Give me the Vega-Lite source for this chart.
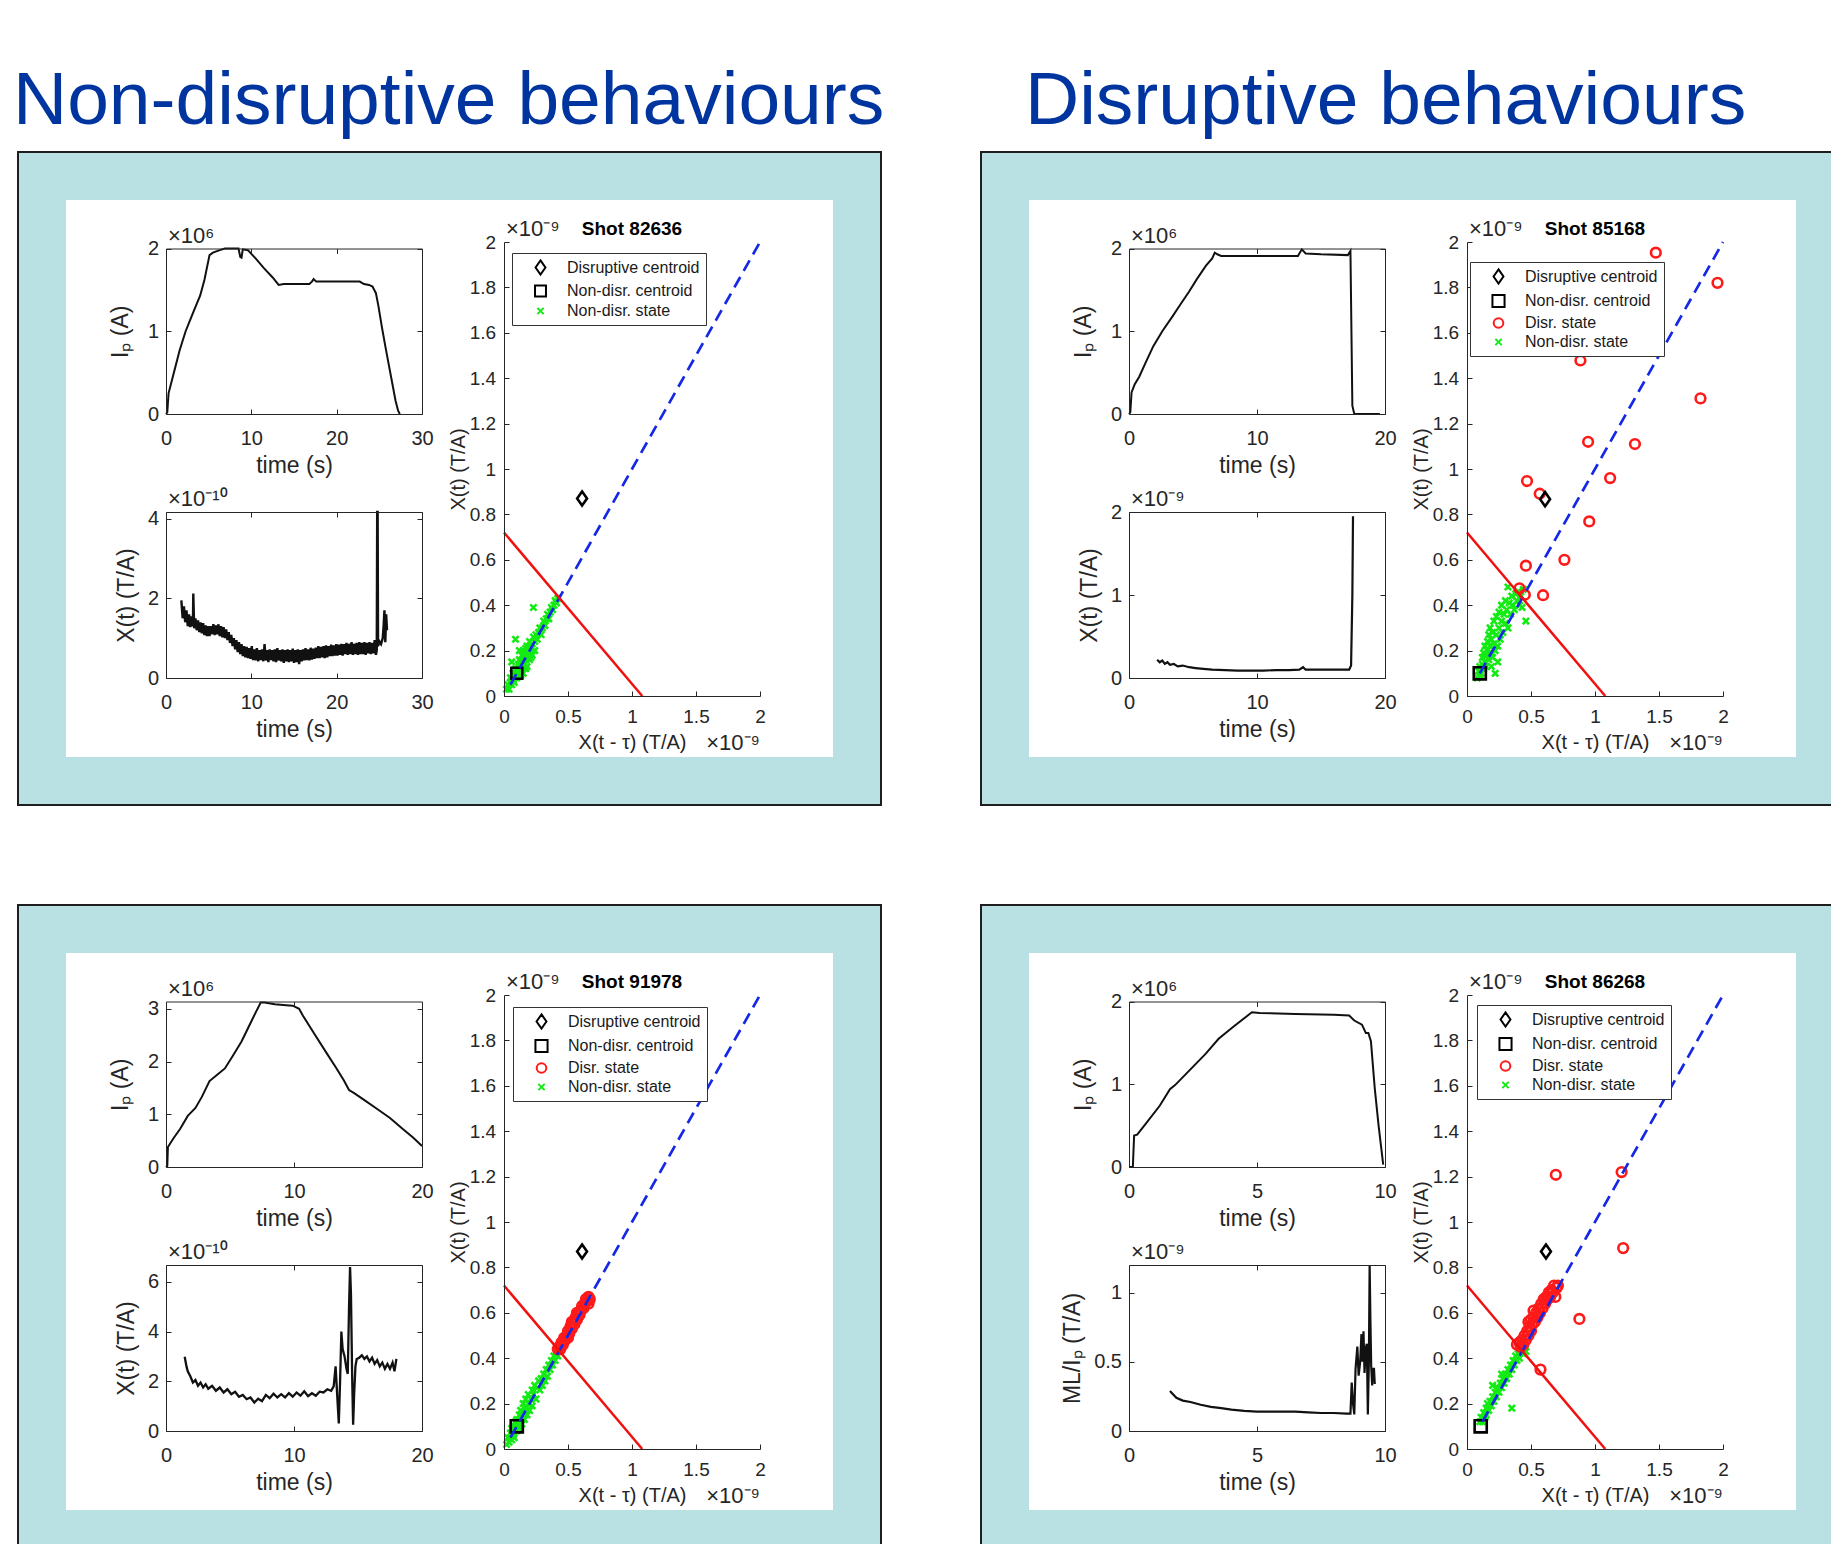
{
"$schema":"https://vega.github.io/schema/vega-lite/v6.json",
"background":"white",
"padding":{"left":13,"top":64,"right":0,"bottom":0},
"columns":2,
"spacing":196,
"bounds":"flush",
"resolve":{"scale":{"x":"independent","y":"independent","color":"independent","shape":"independent","size":"independent"},"axis":{"x":"independent","y":"independent"},"legend":{"color":"independent","shape":"independent","size":"independent"}},
"config":{
 "font":"Liberation Sans, Arial, Helvetica, sans-serif",
 "view":{"stroke":null},
 "axis":{"grid":false,"labelFont":"Liberation Sans, Arial, Helvetica, sans-serif","titleFont":"Liberation Sans, Arial, Helvetica, sans-serif","labelColor":"#262626","titleColor":"#262626","domainColor":"#262626","tickColor":"#262626","titleFontWeight":"normal","labelFlush":false,"labelOverlap":false,"tickSize":-5,"labelFontSize":20,"titleFontSize":23,"domainWidth":1,"tickWidth":1},
 "legend":{"labelFontSize":16,"labelFont":"Liberation Sans, Arial, Helvetica, sans-serif","labelColor":"#1a1a1a","padding":6,"rowPadding":2,"symbolOffset":14,"labelOffset":18,"strokeColor":"#333333","fillColor":"white","symbolStrokeWidth":2,"labelLimit":300},
 "text":{"font":"Liberation Sans, Arial, Helvetica, sans-serif"},
 "title":{"font":"Liberation Sans, Arial, Helvetica, sans-serif"}
},
"datasets":{
 "info":[
  {"p":"A","shot":"Shot 82636","ipx":"×10⁶","xx":"×10⁻¹⁰","sx":"×10⁻⁹"},
  {"p":"B","shot":"Shot 85168","ipx":"×10⁶","xx":"×10⁻⁹","sx":"×10⁻⁹"},
  {"p":"C","shot":"Shot 91978","ipx":"×10⁶","xx":"×10⁻¹⁰","sx":"×10⁻⁹"},
  {"p":"D","shot":"Shot 86268","ipx":"×10⁶","xx":"×10⁻⁹","sx":"×10⁻⁹"}
 ],
 "ip":[
  {"p":"A","t":0,"v":0},{"p":"A","t":0.15,"v":0.02},{"p":"A","t":0.3,"v":0.25},{"p":"A","t":0.8,"v":0.45},{"p":"A","t":1.6,"v":0.77},{"p":"A","t":2.3,"v":1.0},{"p":"A","t":3.0,"v":1.18},{"p":"A","t":3.6,"v":1.33},{"p":"A","t":4.0,"v":1.43},{"p":"A","t":4.5,"v":1.62},{"p":"A","t":5.1,"v":1.92},{"p":"A","t":5.5,"v":1.95},{"p":"A","t":6.3,"v":1.98},{"p":"A","t":6.9,"v":2.0},{"p":"A","t":7.8,"v":2.0},{"p":"A","t":8.5,"v":2.0},{"p":"A","t":8.7,"v":1.9},{"p":"A","t":8.85,"v":1.89},{"p":"A","t":9.0,"v":1.99},{"p":"A","t":9.6,"v":1.98},{"p":"A","t":10.5,"v":1.88},{"p":"A","t":11.5,"v":1.76},{"p":"A","t":12.5,"v":1.65},{"p":"A","t":13.2,"v":1.56},{"p":"A","t":13.8,"v":1.57},{"p":"A","t":14.5,"v":1.57},{"p":"A","t":15.5,"v":1.57},{"p":"A","t":16.8,"v":1.57},{"p":"A","t":17.1,"v":1.6},{"p":"A","t":17.3,"v":1.63},{"p":"A","t":17.6,"v":1.6},{"p":"A","t":18.5,"v":1.6},{"p":"A","t":20.0,"v":1.6},{"p":"A","t":21.5,"v":1.6},{"p":"A","t":22.7,"v":1.6},{"p":"A","t":23.2,"v":1.57},{"p":"A","t":23.8,"v":1.56},{"p":"A","t":24.2,"v":1.54},{"p":"A","t":24.6,"v":1.46},{"p":"A","t":24.9,"v":1.3},{"p":"A","t":25.3,"v":1.05},{"p":"A","t":25.7,"v":0.82},{"p":"A","t":26.1,"v":0.6},{"p":"A","t":26.5,"v":0.38},{"p":"A","t":26.9,"v":0.16},{"p":"A","t":27.2,"v":0.04},{"p":"A","t":27.4,"v":0},
  {"p":"B","t":0,"v":0},{"p":"B","t":0.1,"v":0.02},{"p":"B","t":0.2,"v":0.26},{"p":"B","t":0.45,"v":0.36},{"p":"B","t":0.8,"v":0.45},{"p":"B","t":1.3,"v":0.62},{"p":"B","t":1.9,"v":0.82},{"p":"B","t":2.6,"v":1.0},{"p":"B","t":3.4,"v":1.18},{"p":"B","t":4.0,"v":1.32},{"p":"B","t":4.7,"v":1.48},{"p":"B","t":5.3,"v":1.63},{"p":"B","t":6.0,"v":1.79},{"p":"B","t":6.5,"v":1.88},{"p":"B","t":6.7,"v":1.95},{"p":"B","t":6.9,"v":1.93},{"p":"B","t":7.2,"v":1.91},{"p":"B","t":9.0,"v":1.91},{"p":"B","t":11.0,"v":1.91},{"p":"B","t":13.2,"v":1.91},{"p":"B","t":13.5,"v":1.99},{"p":"B","t":13.8,"v":1.94},{"p":"B","t":15.0,"v":1.93},{"p":"B","t":17.1,"v":1.92},{"p":"B","t":17.3,"v":1.97},{"p":"B","t":17.45,"v":0.1},{"p":"B","t":17.6,"v":0},{"p":"B","t":19.6,"v":0},
  {"p":"C","t":0,"v":0},{"p":"C","t":0.1,"v":0.02},{"p":"C","t":0.15,"v":0.38},{"p":"C","t":0.6,"v":0.55},{"p":"C","t":1.1,"v":0.72},{"p":"C","t":1.7,"v":0.97},{"p":"C","t":2.3,"v":1.12},{"p":"C","t":2.8,"v":1.33},{"p":"C","t":3.4,"v":1.63},{"p":"C","t":4.0,"v":1.75},{"p":"C","t":4.6,"v":1.87},{"p":"C","t":5.2,"v":2.1},{"p":"C","t":5.9,"v":2.38},{"p":"C","t":6.5,"v":2.68},{"p":"C","t":7.0,"v":2.93},{"p":"C","t":7.4,"v":3.12},{"p":"C","t":7.7,"v":3.12},{"p":"C","t":8.5,"v":3.09},{"p":"C","t":9.4,"v":3.07},{"p":"C","t":9.9,"v":3.06},{"p":"C","t":10.4,"v":3.0},{"p":"C","t":10.7,"v":2.87},{"p":"C","t":11.5,"v":2.56},{"p":"C","t":12.5,"v":2.18},{"p":"C","t":13.3,"v":1.88},{"p":"C","t":13.9,"v":1.64},{"p":"C","t":14.3,"v":1.46},{"p":"C","t":14.7,"v":1.4},{"p":"C","t":15.5,"v":1.27},{"p":"C","t":16.5,"v":1.1},{"p":"C","t":17.5,"v":0.93},{"p":"C","t":18.5,"v":0.72},{"p":"C","t":19.3,"v":0.56},{"p":"C","t":20.0,"v":0.4},
  {"p":"D","t":0,"v":0},{"p":"D","t":0.15,"v":0},{"p":"D","t":0.2,"v":0.38},{"p":"D","t":0.32,"v":0.39},{"p":"D","t":0.65,"v":0.52},{"p":"D","t":1.2,"v":0.74},{"p":"D","t":1.6,"v":0.94},{"p":"D","t":1.8,"v":0.99},{"p":"D","t":2.4,"v":1.18},{"p":"D","t":3.0,"v":1.37},{"p":"D","t":3.5,"v":1.55},{"p":"D","t":4.1,"v":1.7},{"p":"D","t":4.8,"v":1.87},{"p":"D","t":5.1,"v":1.86},{"p":"D","t":6.5,"v":1.85},{"p":"D","t":8.0,"v":1.84},{"p":"D","t":8.6,"v":1.83},{"p":"D","t":8.8,"v":1.77},{"p":"D","t":9.1,"v":1.72},{"p":"D","t":9.25,"v":1.62},{"p":"D","t":9.35,"v":1.62},{"p":"D","t":9.45,"v":1.52},{"p":"D","t":9.6,"v":0.95},{"p":"D","t":9.75,"v":0.5},{"p":"D","t":9.93,"v":0.03}
 ],
 "xt":[
  {"p":"A","t":1.8,"v":1.95},{"p":"A","t":1.95,"v":1.5},{"p":"A","t":2.1,"v":1.8},{"p":"A","t":2.25,"v":1.4},{"p":"A","t":2.4,"v":1.7},{"p":"A","t":2.55,"v":1.3},{"p":"A","t":2.7,"v":1.6},{"p":"A","t":2.85,"v":1.28},{"p":"A","t":3.0,"v":1.55},{"p":"A","t":3.15,"v":1.3},{"p":"A","t":3.2,"v":2.12},{"p":"A","t":3.3,"v":1.25},{"p":"A","t":3.45,"v":1.5},{"p":"A","t":3.6,"v":1.2},{"p":"A","t":3.75,"v":1.45},{"p":"A","t":3.9,"v":1.15},{"p":"A","t":4.05,"v":1.4},{"p":"A","t":4.2,"v":1.12},{"p":"A","t":4.35,"v":1.38},{"p":"A","t":4.5,"v":1.08},{"p":"A","t":4.65,"v":1.32},{"p":"A","t":4.8,"v":1.05},{"p":"A","t":4.95,"v":1.3},{"p":"A","t":5.1,"v":1.05},{"p":"A","t":5.25,"v":1.3},{"p":"A","t":5.4,"v":1.1},{"p":"A","t":5.55,"v":1.35},{"p":"A","t":5.7,"v":1.08},{"p":"A","t":5.85,"v":1.32},{"p":"A","t":6.0,"v":1.1},{"p":"A","t":6.15,"v":1.35},{"p":"A","t":6.3,"v":1.05},{"p":"A","t":6.45,"v":1.3},{"p":"A","t":6.6,"v":1.02},{"p":"A","t":6.75,"v":1.28},{"p":"A","t":6.9,"v":1.0},{"p":"A","t":7.05,"v":1.22},{"p":"A","t":7.2,"v":0.95},{"p":"A","t":7.35,"v":1.15},{"p":"A","t":7.5,"v":0.88},{"p":"A","t":7.65,"v":1.08},{"p":"A","t":7.8,"v":0.8},{"p":"A","t":7.95,"v":1.0},{"p":"A","t":8.1,"v":0.72},{"p":"A","t":8.25,"v":0.95},{"p":"A","t":8.4,"v":0.65},{"p":"A","t":8.55,"v":0.9},{"p":"A","t":8.7,"v":0.6},{"p":"A","t":8.85,"v":0.85},{"p":"A","t":9.0,"v":0.55},{"p":"A","t":9.15,"v":0.8},{"p":"A","t":9.3,"v":0.52},{"p":"A","t":9.45,"v":0.78},{"p":"A","t":9.6,"v":0.5},{"p":"A","t":9.75,"v":0.75},{"p":"A","t":9.9,"v":0.48},{"p":"A","t":10.05,"v":0.8},{"p":"A","t":10.2,"v":0.45},{"p":"A","t":10.35,"v":0.72},{"p":"A","t":10.5,"v":0.44},{"p":"A","t":10.65,"v":0.75},{"p":"A","t":10.8,"v":0.42},{"p":"A","t":10.95,"v":0.7},{"p":"A","t":11.1,"v":0.45},{"p":"A","t":11.25,"v":0.72},{"p":"A","t":11.4,"v":0.42},{"p":"A","t":11.55,"v":0.85},{"p":"A","t":11.7,"v":0.44},{"p":"A","t":11.85,"v":0.7},{"p":"A","t":12.0,"v":0.4},{"p":"A","t":12.15,"v":0.72},{"p":"A","t":12.3,"v":0.45},{"p":"A","t":12.45,"v":0.7},{"p":"A","t":12.6,"v":0.42},{"p":"A","t":12.75,"v":0.72},{"p":"A","t":12.9,"v":0.4},{"p":"A","t":13.05,"v":0.75},{"p":"A","t":13.2,"v":0.44},{"p":"A","t":13.35,"v":0.7},{"p":"A","t":13.5,"v":0.42},{"p":"A","t":13.65,"v":0.72},{"p":"A","t":13.8,"v":0.38},{"p":"A","t":13.95,"v":0.7},{"p":"A","t":14.1,"v":0.42},{"p":"A","t":14.25,"v":0.72},{"p":"A","t":14.4,"v":0.4},{"p":"A","t":14.55,"v":0.7},{"p":"A","t":14.7,"v":0.42},{"p":"A","t":14.85,"v":0.74},{"p":"A","t":15.0,"v":0.38},{"p":"A","t":15.15,"v":0.7},{"p":"A","t":15.3,"v":0.4},{"p":"A","t":15.45,"v":0.72},{"p":"A","t":15.6,"v":0.35},{"p":"A","t":15.75,"v":0.7},{"p":"A","t":15.9,"v":0.42},{"p":"A","t":16.05,"v":0.72},{"p":"A","t":16.2,"v":0.44},{"p":"A","t":16.35,"v":0.75},{"p":"A","t":16.5,"v":0.45},{"p":"A","t":16.65,"v":0.72},{"p":"A","t":16.8,"v":0.44},{"p":"A","t":16.95,"v":0.76},{"p":"A","t":17.1,"v":0.46},{"p":"A","t":17.25,"v":0.74},{"p":"A","t":17.4,"v":0.48},{"p":"A","t":17.55,"v":0.76},{"p":"A","t":17.7,"v":0.5},{"p":"A","t":17.85,"v":0.8},{"p":"A","t":18.0,"v":0.5},{"p":"A","t":18.15,"v":0.78},{"p":"A","t":18.3,"v":0.52},{"p":"A","t":18.45,"v":0.8},{"p":"A","t":18.6,"v":0.5},{"p":"A","t":18.75,"v":0.82},{"p":"A","t":18.9,"v":0.52},{"p":"A","t":19.05,"v":0.8},{"p":"A","t":19.2,"v":0.55},{"p":"A","t":19.35,"v":0.84},{"p":"A","t":19.5,"v":0.55},{"p":"A","t":19.65,"v":0.82},{"p":"A","t":19.8,"v":0.56},{"p":"A","t":19.95,"v":0.85},{"p":"A","t":20.1,"v":0.56},{"p":"A","t":20.25,"v":0.84},{"p":"A","t":20.4,"v":0.58},{"p":"A","t":20.55,"v":0.86},{"p":"A","t":20.7,"v":0.56},{"p":"A","t":20.85,"v":0.85},{"p":"A","t":21.0,"v":0.6},{"p":"A","t":21.15,"v":0.88},{"p":"A","t":21.3,"v":0.58},{"p":"A","t":21.45,"v":0.86},{"p":"A","t":21.6,"v":0.6},{"p":"A","t":21.75,"v":0.9},{"p":"A","t":21.9,"v":0.58},{"p":"A","t":22.05,"v":0.86},{"p":"A","t":22.2,"v":0.6},{"p":"A","t":22.35,"v":0.88},{"p":"A","t":22.5,"v":0.58},{"p":"A","t":22.65,"v":0.9},{"p":"A","t":22.8,"v":0.6},{"p":"A","t":22.95,"v":0.88},{"p":"A","t":23.1,"v":0.6},{"p":"A","t":23.25,"v":0.9},{"p":"A","t":23.4,"v":0.58},{"p":"A","t":23.55,"v":0.88},{"p":"A","t":23.7,"v":0.62},{"p":"A","t":23.85,"v":0.9},{"p":"A","t":24.0,"v":0.6},{"p":"A","t":24.15,"v":0.88},{"p":"A","t":24.3,"v":0.62},{"p":"A","t":24.45,"v":0.95},{"p":"A","t":24.6,"v":0.58},{"p":"A","t":24.7,"v":0.7},{"p":"A","t":24.75,"v":4.17},{"p":"A","t":24.8,"v":4.17},{"p":"A","t":24.85,"v":0.8},{"p":"A","t":25.0,"v":0.92},{"p":"A","t":25.2,"v":0.85},{"p":"A","t":25.4,"v":1.0},{"p":"A","t":25.5,"v":1.3},{"p":"A","t":25.6,"v":1.7},{"p":"A","t":25.7,"v":0.9},{"p":"A","t":25.8,"v":1.6},{"p":"A","t":25.9,"v":1.2},
  {"p":"B","t":2.2,"v":0.22},{"p":"B","t":2.4,"v":0.19},{"p":"B","t":2.6,"v":0.21},{"p":"B","t":2.8,"v":0.17},{"p":"B","t":3.0,"v":0.19},{"p":"B","t":3.2,"v":0.16},{"p":"B","t":3.5,"v":0.17},{"p":"B","t":3.8,"v":0.14},{"p":"B","t":4.2,"v":0.15},{"p":"B","t":4.7,"v":0.13},{"p":"B","t":5.2,"v":0.12},{"p":"B","t":5.8,"v":0.11},{"p":"B","t":6.5,"v":0.1},{"p":"B","t":7.5,"v":0.095},{"p":"B","t":8.5,"v":0.09},{"p":"B","t":9.5,"v":0.09},{"p":"B","t":10.5,"v":0.09},{"p":"B","t":11.5,"v":0.095},{"p":"B","t":12.5,"v":0.095},{"p":"B","t":13.3,"v":0.1},{"p":"B","t":13.6,"v":0.13},{"p":"B","t":13.8,"v":0.1},{"p":"B","t":14.5,"v":0.1},{"p":"B","t":15.5,"v":0.1},{"p":"B","t":16.5,"v":0.1},{"p":"B","t":17.2,"v":0.1},{"p":"B","t":17.35,"v":0.15},{"p":"B","t":17.45,"v":1.0},{"p":"B","t":17.5,"v":1.95},
  {"p":"C","t":1.46,"v":2.99},{"p":"C","t":1.6,"v":2.6},{"p":"C","t":1.7,"v":2.4},{"p":"C","t":1.9,"v":2.2},{"p":"C","t":2.1,"v":1.95},{"p":"C","t":2.3,"v":2.05},{"p":"C","t":2.5,"v":1.82},{"p":"C","t":2.7,"v":1.95},{"p":"C","t":2.9,"v":1.75},{"p":"C","t":3.1,"v":1.88},{"p":"C","t":3.3,"v":1.7},{"p":"C","t":3.6,"v":1.82},{"p":"C","t":3.9,"v":1.62},{"p":"C","t":4.2,"v":1.75},{"p":"C","t":4.5,"v":1.55},{"p":"C","t":4.8,"v":1.68},{"p":"C","t":5.1,"v":1.48},{"p":"C","t":5.4,"v":1.58},{"p":"C","t":5.7,"v":1.38},{"p":"C","t":6.0,"v":1.45},{"p":"C","t":6.3,"v":1.28},{"p":"C","t":6.6,"v":1.35},{"p":"C","t":6.9,"v":1.15},{"p":"C","t":7.2,"v":1.3},{"p":"C","t":7.5,"v":1.2},{"p":"C","t":7.8,"v":1.45},{"p":"C","t":8.1,"v":1.32},{"p":"C","t":8.4,"v":1.5},{"p":"C","t":8.7,"v":1.35},{"p":"C","t":9.0,"v":1.48},{"p":"C","t":9.3,"v":1.35},{"p":"C","t":9.6,"v":1.52},{"p":"C","t":9.9,"v":1.38},{"p":"C","t":10.2,"v":1.55},{"p":"C","t":10.5,"v":1.42},{"p":"C","t":10.8,"v":1.6},{"p":"C","t":11.1,"v":1.4},{"p":"C","t":11.4,"v":1.52},{"p":"C","t":11.7,"v":1.42},{"p":"C","t":12.0,"v":1.58},{"p":"C","t":12.3,"v":1.55},{"p":"C","t":12.6,"v":1.68},{"p":"C","t":12.9,"v":1.62},{"p":"C","t":13.1,"v":1.8},{"p":"C","t":13.25,"v":2.6},{"p":"C","t":13.4,"v":1.2},{"p":"C","t":13.5,"v":0.3},{"p":"C","t":13.6,"v":2.0},{"p":"C","t":13.7,"v":4.0},{"p":"C","t":13.8,"v":3.3},{"p":"C","t":13.95,"v":3.0},{"p":"C","t":14.1,"v":2.5},{"p":"C","t":14.2,"v":2.3},{"p":"C","t":14.3,"v":5.0},{"p":"C","t":14.38,"v":6.6},{"p":"C","t":14.45,"v":5.5},{"p":"C","t":14.55,"v":2.0},{"p":"C","t":14.62,"v":0.25},{"p":"C","t":14.7,"v":1.5},{"p":"C","t":14.8,"v":2.6},{"p":"C","t":14.9,"v":2.9},{"p":"C","t":15.1,"v":2.95},{"p":"C","t":15.3,"v":3.05},{"p":"C","t":15.5,"v":2.9},{"p":"C","t":15.7,"v":3.0},{"p":"C","t":15.9,"v":2.8},{"p":"C","t":16.1,"v":2.95},{"p":"C","t":16.3,"v":2.7},{"p":"C","t":16.5,"v":2.85},{"p":"C","t":16.7,"v":2.6},{"p":"C","t":16.9,"v":2.75},{"p":"C","t":17.1,"v":2.5},{"p":"C","t":17.3,"v":2.7},{"p":"C","t":17.5,"v":2.5},{"p":"C","t":17.7,"v":2.75},{"p":"C","t":17.85,"v":2.4},{"p":"C","t":18.0,"v":2.9},
  {"p":"D","t":1.6,"v":0.29},{"p":"D","t":1.7,"v":0.27},{"p":"D","t":1.85,"v":0.24},{"p":"D","t":2.1,"v":0.22},{"p":"D","t":2.4,"v":0.21},{"p":"D","t":2.8,"v":0.19},{"p":"D","t":3.2,"v":0.175},{"p":"D","t":3.6,"v":0.165},{"p":"D","t":4.0,"v":0.155},{"p":"D","t":4.5,"v":0.145},{"p":"D","t":5.0,"v":0.14},{"p":"D","t":5.5,"v":0.14},{"p":"D","t":6.0,"v":0.14},{"p":"D","t":6.5,"v":0.14},{"p":"D","t":7.0,"v":0.135},{"p":"D","t":7.5,"v":0.13},{"p":"D","t":8.0,"v":0.13},{"p":"D","t":8.5,"v":0.125},{"p":"D","t":8.65,"v":0.125},{"p":"D","t":8.7,"v":0.35},{"p":"D","t":8.75,"v":0.2},{"p":"D","t":8.8,"v":0.12},{"p":"D","t":8.85,"v":0.45},{"p":"D","t":8.92,"v":0.61},{"p":"D","t":8.97,"v":0.4},{"p":"D","t":9.03,"v":0.5},{"p":"D","t":9.08,"v":0.7},{"p":"D","t":9.12,"v":0.5},{"p":"D","t":9.16,"v":0.72},{"p":"D","t":9.2,"v":0.42},{"p":"D","t":9.25,"v":0.6},{"p":"D","t":9.29,"v":0.63},{"p":"D","t":9.33,"v":0.12},{"p":"D","t":9.37,"v":0.5},{"p":"D","t":9.4,"v":1.2},{"p":"D","t":9.43,"v":0.8},{"p":"D","t":9.46,"v":0.47},{"p":"D","t":9.5,"v":0.33},{"p":"D","t":9.53,"v":0.45},{"p":"D","t":9.57,"v":0.45},{"p":"D","t":9.6,"v":0.34}
 ],
 "ln":[
  {"p":"A","k":"b","x":0.05,"y":0.05},{"p":"A","k":"b","x":2,"y":2},{"p":"A","k":"r","x":0,"y":0.72},{"p":"A","k":"r","x":1.08,"y":0},
  {"p":"B","k":"b","x":0.1,"y":0.1},{"p":"B","k":"b","x":2,"y":2},{"p":"B","k":"r","x":0,"y":0.72},{"p":"B","k":"r","x":1.08,"y":0},
  {"p":"C","k":"b","x":0.05,"y":0.05},{"p":"C","k":"b","x":2,"y":2},{"p":"C","k":"r","x":0,"y":0.72},{"p":"C","k":"r","x":1.08,"y":0},
  {"p":"D","k":"b","x":0.12,"y":0.12},{"p":"D","k":"b","x":2,"y":2},{"p":"D","k":"r","x":0,"y":0.72},{"p":"D","k":"r","x":1.08,"y":0}
 ],
 "sc":[
  {"p":"A","x":0.02,"y":0.03,"c":"g"},{"p":"A","x":0.03,"y":0.05,"c":"g"},{"p":"A","x":0.04,"y":0.03,"c":"g"},{"p":"A","x":0.05,"y":0.06,"c":"g"},{"p":"A","x":0.05,"y":0.08,"c":"g"},{"p":"A","x":0.06,"y":0.05,"c":"g"},{"p":"A","x":0.07,"y":0.07,"c":"g"},{"p":"A","x":0.07,"y":0.1,"c":"g"},{"p":"A","x":0.08,"y":0.06,"c":"g"},{"p":"A","x":0.08,"y":0.09,"c":"g"},{"p":"A","x":0.09,"y":0.12,"c":"g"},{"p":"A","x":0.1,"y":0.08,"c":"g"},{"p":"A","x":0.1,"y":0.11,"c":"g"},{"p":"A","x":0.11,"y":0.14,"c":"g"},{"p":"A","x":0.11,"y":0.1,"c":"g"},{"p":"A","x":0.12,"y":0.13,"c":"g"},{"p":"A","x":0.12,"y":0.16,"c":"g"},{"p":"A","x":0.13,"y":0.12,"c":"g"},{"p":"A","x":0.13,"y":0.15,"c":"g"},{"p":"A","x":0.13,"y":0.09,"c":"g"},{"p":"A","x":0.14,"y":0.18,"c":"g"},{"p":"A","x":0.14,"y":0.13,"c":"g"},{"p":"A","x":0.15,"y":0.16,"c":"g"},{"p":"A","x":0.15,"y":0.1,"c":"g"},{"p":"A","x":0.15,"y":0.2,"c":"g"},{"p":"A","x":0.16,"y":0.14,"c":"g"},{"p":"A","x":0.16,"y":0.18,"c":"g"},{"p":"A","x":0.17,"y":0.21,"c":"g"},{"p":"A","x":0.17,"y":0.12,"c":"g"},{"p":"A","x":0.17,"y":0.16,"c":"g"},{"p":"A","x":0.18,"y":0.19,"c":"g"},{"p":"A","x":0.18,"y":0.13,"c":"g"},{"p":"A","x":0.18,"y":0.22,"c":"g"},{"p":"A","x":0.19,"y":0.18,"c":"g"},{"p":"A","x":0.2,"y":0.21,"c":"g"},{"p":"A","x":0.2,"y":0.16,"c":"g"},{"p":"A","x":0.2,"y":0.24,"c":"g"},{"p":"A","x":0.21,"y":0.2,"c":"g"},{"p":"A","x":0.21,"y":0.17,"c":"g"},{"p":"A","x":0.22,"y":0.23,"c":"g"},{"p":"A","x":0.22,"y":0.18,"c":"g"},{"p":"A","x":0.23,"y":0.26,"c":"g"},{"p":"A","x":0.24,"y":0.24,"c":"g"},{"p":"A","x":0.24,"y":0.2,"c":"g"},{"p":"A","x":0.25,"y":0.27,"c":"g"},{"p":"A","x":0.26,"y":0.25,"c":"g"},{"p":"A","x":0.27,"y":0.28,"c":"g"},{"p":"A","x":0.28,"y":0.3,"c":"g"},{"p":"A","x":0.29,"y":0.27,"c":"g"},{"p":"A","x":0.3,"y":0.3,"c":"g"},{"p":"A","x":0.31,"y":0.33,"c":"g"},{"p":"A","x":0.32,"y":0.31,"c":"g"},{"p":"A","x":0.33,"y":0.34,"c":"g"},{"p":"A","x":0.34,"y":0.36,"c":"g"},{"p":"A","x":0.35,"y":0.34,"c":"g"},{"p":"A","x":0.36,"y":0.37,"c":"g"},{"p":"A","x":0.37,"y":0.39,"c":"g"},{"p":"A","x":0.38,"y":0.38,"c":"g"},{"p":"A","x":0.39,"y":0.4,"c":"g"},{"p":"A","x":0.4,"y":0.42,"c":"g"},{"p":"A","x":0.41,"y":0.41,"c":"g"},{"p":"A","x":0.42,"y":0.43,"c":"g"},{"p":"A","x":0.09,"y":0.25,"c":"g"},{"p":"A","x":0.23,"y":0.39,"c":"g"},{"p":"A","x":0.06,"y":0.15,"c":"g"},{"p":"A","x":0.12,"y":0.2,"c":"g"},
  {"p":"A","x":0.61,"y":0.87,"c":"d"},{"p":"A","x":0.1,"y":0.1,"c":"s"},
  {"p":"B","x":0.08,"y":0.08,"c":"g"},{"p":"B","x":0.09,"y":0.11,"c":"g"},{"p":"B","x":0.1,"y":0.09,"c":"g"},{"p":"B","x":0.1,"y":0.13,"c":"g"},{"p":"B","x":0.11,"y":0.1,"c":"g"},{"p":"B","x":0.12,"y":0.14,"c":"g"},{"p":"B","x":0.12,"y":0.17,"c":"g"},{"p":"B","x":0.13,"y":0.12,"c":"g"},{"p":"B","x":0.13,"y":0.19,"c":"g"},{"p":"B","x":0.14,"y":0.15,"c":"g"},{"p":"B","x":0.14,"y":0.22,"c":"g"},{"p":"B","x":0.15,"y":0.13,"c":"g"},{"p":"B","x":0.15,"y":0.18,"c":"g"},{"p":"B","x":0.16,"y":0.24,"c":"g"},{"p":"B","x":0.16,"y":0.2,"c":"g"},{"p":"B","x":0.17,"y":0.16,"c":"g"},{"p":"B","x":0.17,"y":0.27,"c":"g"},{"p":"B","x":0.18,"y":0.22,"c":"g"},{"p":"B","x":0.18,"y":0.3,"c":"g"},{"p":"B","x":0.19,"y":0.19,"c":"g"},{"p":"B","x":0.19,"y":0.25,"c":"g"},{"p":"B","x":0.2,"y":0.17,"c":"g"},{"p":"B","x":0.2,"y":0.28,"c":"g"},{"p":"B","x":0.21,"y":0.23,"c":"g"},{"p":"B","x":0.21,"y":0.33,"c":"g"},{"p":"B","x":0.22,"y":0.2,"c":"g"},{"p":"B","x":0.22,"y":0.1,"c":"g"},{"p":"B","x":0.23,"y":0.27,"c":"g"},{"p":"B","x":0.23,"y":0.35,"c":"g"},{"p":"B","x":0.24,"y":0.22,"c":"g"},{"p":"B","x":0.25,"y":0.3,"c":"g"},{"p":"B","x":0.25,"y":0.37,"c":"g"},{"p":"B","x":0.26,"y":0.25,"c":"g"},{"p":"B","x":0.27,"y":0.33,"c":"g"},{"p":"B","x":0.27,"y":0.4,"c":"g"},{"p":"B","x":0.28,"y":0.28,"c":"g"},{"p":"B","x":0.29,"y":0.36,"c":"g"},{"p":"B","x":0.3,"y":0.32,"c":"g"},{"p":"B","x":0.3,"y":0.42,"c":"g"},{"p":"B","x":0.31,"y":0.38,"c":"g"},{"p":"B","x":0.32,"y":0.48,"c":"g"},{"p":"B","x":0.32,"y":0.3,"c":"g"},{"p":"B","x":0.33,"y":0.41,"c":"g"},{"p":"B","x":0.34,"y":0.36,"c":"g"},{"p":"B","x":0.35,"y":0.44,"c":"g"},{"p":"B","x":0.36,"y":0.4,"c":"g"},{"p":"B","x":0.37,"y":0.38,"c":"g"},{"p":"B","x":0.38,"y":0.45,"c":"g"},{"p":"B","x":0.39,"y":0.42,"c":"g"},{"p":"B","x":0.4,"y":0.46,"c":"g"},{"p":"B","x":0.41,"y":0.4,"c":"g"},{"p":"B","x":0.42,"y":0.44,"c":"g"},{"p":"B","x":0.43,"y":0.39,"c":"g"},{"p":"B","x":0.46,"y":0.33,"c":"g"},{"p":"B","x":0.44,"y":0.47,"c":"g"},{"p":"B","x":0.24,"y":0.15,"c":"g"},{"p":"B","x":0.19,"y":0.13,"c":"g"},
  {"p":"B","x":0.41,"y":0.474,"c":"r"},{"p":"B","x":0.452,"y":0.446,"c":"r"},{"p":"B","x":0.594,"y":0.444,"c":"r"},{"p":"B","x":0.46,"y":0.574,"c":"r"},{"p":"B","x":0.761,"y":0.6,"c":"r"},{"p":"B","x":0.955,"y":0.769,"c":"r"},{"p":"B","x":0.568,"y":0.891,"c":"r"},{"p":"B","x":0.469,"y":0.947,"c":"r"},{"p":"B","x":1.118,"y":0.96,"c":"r"},{"p":"B","x":0.946,"y":1.12,"c":"r"},{"p":"B","x":1.312,"y":1.11,"c":"r"},{"p":"B","x":1.824,"y":1.311,"c":"r"},{"p":"B","x":0.886,"y":1.478,"c":"r"},{"p":"B","x":1.957,"y":1.82,"c":"r"},{"p":"B","x":1.475,"y":1.953,"c":"r"},
  {"p":"B","x":0.61,"y":0.867,"c":"d"},{"p":"B","x":0.1,"y":0.1,"c":"s"},
  {"p":"C","x":0.02,"y":0.02,"c":"g"},{"p":"C","x":0.03,"y":0.05,"c":"g"},{"p":"C","x":0.04,"y":0.03,"c":"g"},{"p":"C","x":0.05,"y":0.07,"c":"g"},{"p":"C","x":0.06,"y":0.04,"c":"g"},{"p":"C","x":0.06,"y":0.09,"c":"g"},{"p":"C","x":0.07,"y":0.06,"c":"g"},{"p":"C","x":0.08,"y":0.1,"c":"g"},{"p":"C","x":0.08,"y":0.05,"c":"g"},{"p":"C","x":0.09,"y":0.12,"c":"g"},{"p":"C","x":0.1,"y":0.08,"c":"g"},{"p":"C","x":0.1,"y":0.13,"c":"g"},{"p":"C","x":0.11,"y":0.1,"c":"g"},{"p":"C","x":0.12,"y":0.15,"c":"g"},{"p":"C","x":0.12,"y":0.09,"c":"g"},{"p":"C","x":0.13,"y":0.13,"c":"g"},{"p":"C","x":0.13,"y":0.17,"c":"g"},{"p":"C","x":0.14,"y":0.11,"c":"g"},{"p":"C","x":0.15,"y":0.16,"c":"g"},{"p":"C","x":0.15,"y":0.2,"c":"g"},{"p":"C","x":0.16,"y":0.13,"c":"g"},{"p":"C","x":0.17,"y":0.18,"c":"g"},{"p":"C","x":0.17,"y":0.22,"c":"g"},{"p":"C","x":0.18,"y":0.15,"c":"g"},{"p":"C","x":0.19,"y":0.2,"c":"g"},{"p":"C","x":0.19,"y":0.24,"c":"g"},{"p":"C","x":0.2,"y":0.17,"c":"g"},{"p":"C","x":0.21,"y":0.22,"c":"g"},{"p":"C","x":0.22,"y":0.26,"c":"g"},{"p":"C","x":0.22,"y":0.19,"c":"g"},{"p":"C","x":0.23,"y":0.24,"c":"g"},{"p":"C","x":0.24,"y":0.28,"c":"g"},{"p":"C","x":0.25,"y":0.22,"c":"g"},{"p":"C","x":0.26,"y":0.27,"c":"g"},{"p":"C","x":0.27,"y":0.3,"c":"g"},{"p":"C","x":0.28,"y":0.26,"c":"g"},{"p":"C","x":0.29,"y":0.31,"c":"g"},{"p":"C","x":0.3,"y":0.28,"c":"g"},{"p":"C","x":0.31,"y":0.33,"c":"g"},{"p":"C","x":0.32,"y":0.3,"c":"g"},{"p":"C","x":0.33,"y":0.35,"c":"g"},{"p":"C","x":0.34,"y":0.32,"c":"g"},{"p":"C","x":0.35,"y":0.37,"c":"g"},{"p":"C","x":0.36,"y":0.35,"c":"g"},{"p":"C","x":0.37,"y":0.39,"c":"g"},{"p":"C","x":0.38,"y":0.37,"c":"g"},{"p":"C","x":0.39,"y":0.41,"c":"g"},{"p":"C","x":0.4,"y":0.39,"c":"g"},{"p":"C","x":0.41,"y":0.43,"c":"g"},{"p":"C","x":0.42,"y":0.41,"c":"g"},
  {"p":"C","x":0.42,"y":0.44,"c":"r"},{"p":"C","x":0.43,"y":0.45,"c":"r"},{"p":"C","x":0.44,"y":0.44,"c":"r"},{"p":"C","x":0.45,"y":0.47,"c":"r"},{"p":"C","x":0.46,"y":0.46,"c":"r"},{"p":"C","x":0.47,"y":0.49,"c":"r"},{"p":"C","x":0.48,"y":0.48,"c":"r"},{"p":"C","x":0.49,"y":0.5,"c":"r"},{"p":"C","x":0.5,"y":0.49,"c":"r"},{"p":"C","x":0.5,"y":0.52,"c":"r"},{"p":"C","x":0.51,"y":0.51,"c":"r"},{"p":"C","x":0.52,"y":0.54,"c":"r"},{"p":"C","x":0.53,"y":0.53,"c":"r"},{"p":"C","x":0.54,"y":0.56,"c":"r"},{"p":"C","x":0.55,"y":0.55,"c":"r"},{"p":"C","x":0.56,"y":0.58,"c":"r"},{"p":"C","x":0.57,"y":0.57,"c":"r"},{"p":"C","x":0.58,"y":0.6,"c":"r"},{"p":"C","x":0.59,"y":0.59,"c":"r"},{"p":"C","x":0.6,"y":0.61,"c":"r"},{"p":"C","x":0.61,"y":0.63,"c":"r"},{"p":"C","x":0.62,"y":0.62,"c":"r"},{"p":"C","x":0.63,"y":0.64,"c":"r"},{"p":"C","x":0.64,"y":0.66,"c":"r"},{"p":"C","x":0.65,"y":0.65,"c":"r"},{"p":"C","x":0.66,"y":0.67,"c":"r"},{"p":"C","x":0.67,"y":0.66,"c":"r"},{"p":"C","x":0.66,"y":0.64,"c":"r"},{"p":"C","x":0.53,"y":0.56,"c":"r"},{"p":"C","x":0.57,"y":0.6,"c":"r"},
  {"p":"C","x":0.61,"y":0.87,"c":"d"},{"p":"C","x":0.1,"y":0.1,"c":"s"},
  {"p":"D","x":0.1,"y":0.12,"c":"g"},{"p":"D","x":0.11,"y":0.14,"c":"g"},{"p":"D","x":0.12,"y":0.12,"c":"g"},{"p":"D","x":0.13,"y":0.16,"c":"g"},{"p":"D","x":0.14,"y":0.14,"c":"g"},{"p":"D","x":0.15,"y":0.18,"c":"g"},{"p":"D","x":0.15,"y":0.15,"c":"g"},{"p":"D","x":0.16,"y":0.2,"c":"g"},{"p":"D","x":0.17,"y":0.17,"c":"g"},{"p":"D","x":0.18,"y":0.21,"c":"g"},{"p":"D","x":0.19,"y":0.19,"c":"g"},{"p":"D","x":0.2,"y":0.23,"c":"g"},{"p":"D","x":0.21,"y":0.21,"c":"g"},{"p":"D","x":0.22,"y":0.25,"c":"g"},{"p":"D","x":0.23,"y":0.23,"c":"g"},{"p":"D","x":0.24,"y":0.27,"c":"g"},{"p":"D","x":0.25,"y":0.25,"c":"g"},{"p":"D","x":0.26,"y":0.29,"c":"g"},{"p":"D","x":0.27,"y":0.27,"c":"g"},{"p":"D","x":0.28,"y":0.31,"c":"g"},{"p":"D","x":0.29,"y":0.29,"c":"g"},{"p":"D","x":0.3,"y":0.33,"c":"g"},{"p":"D","x":0.31,"y":0.31,"c":"g"},{"p":"D","x":0.32,"y":0.35,"c":"g"},{"p":"D","x":0.33,"y":0.33,"c":"g"},{"p":"D","x":0.34,"y":0.37,"c":"g"},{"p":"D","x":0.35,"y":0.35,"c":"g"},{"p":"D","x":0.36,"y":0.39,"c":"g"},{"p":"D","x":0.37,"y":0.37,"c":"g"},{"p":"D","x":0.38,"y":0.41,"c":"g"},{"p":"D","x":0.39,"y":0.39,"c":"g"},{"p":"D","x":0.4,"y":0.42,"c":"g"},{"p":"D","x":0.41,"y":0.4,"c":"g"},{"p":"D","x":0.42,"y":0.43,"c":"g"},{"p":"D","x":0.44,"y":0.42,"c":"g"},{"p":"D","x":0.46,"y":0.43,"c":"g"},{"p":"D","x":0.35,"y":0.18,"c":"g"},{"p":"D","x":0.2,"y":0.28,"c":"g"},{"p":"D","x":0.27,"y":0.33,"c":"g"},
  {"p":"D","x":0.39,"y":0.46,"c":"r"},{"p":"D","x":0.41,"y":0.47,"c":"r"},{"p":"D","x":0.42,"y":0.45,"c":"r"},{"p":"D","x":0.43,"y":0.48,"c":"r"},{"p":"D","x":0.44,"y":0.46,"c":"r"},{"p":"D","x":0.45,"y":0.5,"c":"r"},{"p":"D","x":0.46,"y":0.48,"c":"r"},{"p":"D","x":0.47,"y":0.52,"c":"r"},{"p":"D","x":0.48,"y":0.5,"c":"r"},{"p":"D","x":0.49,"y":0.54,"c":"r"},{"p":"D","x":0.5,"y":0.52,"c":"r"},{"p":"D","x":0.5,"y":0.57,"c":"r"},{"p":"D","x":0.51,"y":0.55,"c":"r"},{"p":"D","x":0.52,"y":0.58,"c":"r"},{"p":"D","x":0.53,"y":0.56,"c":"r"},{"p":"D","x":0.54,"y":0.6,"c":"r"},{"p":"D","x":0.55,"y":0.58,"c":"r"},{"p":"D","x":0.56,"y":0.62,"c":"r"},{"p":"D","x":0.57,"y":0.6,"c":"r"},{"p":"D","x":0.58,"y":0.64,"c":"r"},{"p":"D","x":0.59,"y":0.62,"c":"r"},{"p":"D","x":0.6,"y":0.66,"c":"r"},{"p":"D","x":0.61,"y":0.64,"c":"r"},{"p":"D","x":0.62,"y":0.67,"c":"r"},{"p":"D","x":0.63,"y":0.66,"c":"r"},{"p":"D","x":0.64,"y":0.69,"c":"r"},{"p":"D","x":0.65,"y":0.67,"c":"r"},{"p":"D","x":0.66,"y":0.7,"c":"r"},{"p":"D","x":0.67,"y":0.69,"c":"r"},{"p":"D","x":0.68,"y":0.72,"c":"r"},{"p":"D","x":0.7,"y":0.71,"c":"r"},{"p":"D","x":0.71,"y":0.72,"c":"r"},{"p":"D","x":0.69,"y":0.67,"c":"r"},{"p":"D","x":0.52,"y":0.61,"c":"r"},{"p":"D","x":0.48,"y":0.56,"c":"r"},
  {"p":"D","x":0.694,"y":1.208,"c":"r"},{"p":"D","x":1.208,"y":1.22,"c":"r"},{"p":"D","x":1.22,"y":0.885,"c":"r"},{"p":"D","x":0.878,"y":0.573,"c":"r"},{"p":"D","x":0.574,"y":0.35,"c":"r"},
  {"p":"D","x":0.617,"y":0.87,"c":"d"},{"p":"D","x":0.107,"y":0.1,"c":"s"}
 ]
},
"concat":[
 {
  "width":767,"height":557,
  "title":{"text":"Non-disruptive behaviours","anchor":"start","frame":"group","orient":"top","offset":-48,"dx":-53,"fontSize":75,"fontWeight":"normal","color":"#00349e","baseline":"alphabetic","zindex":1},
  "resolve":{"scale":{"x":"independent","y":"independent"},"axis":{"x":"independent","y":"independent"}},
  "layer":[
   {"data":{"values":[{}]},"mark":{"type":"rect","fill":"transparent","stroke":"#1e1e1e","strokeWidth":98},"encoding":{}},
   {"data":{"values":[{}]},"mark":{"type":"rect","fill":"transparent","stroke":"#b9e0e2","strokeWidth":94},"encoding":{}},
   {"data":{"values":[{}]},"mark":{"type":"rect","fill":"white","strokeWidth":0},"encoding":{}},
   {"data":{"name":"ip"},"transform":[{"filter":"datum.p=='A'"}],"mark":{"type":"line","color":"#111111","strokeWidth":2},
    "encoding":{
     "x":{"field":"t","type":"quantitative","scale":{"domain":[0,30],"range":[100,356],"nice":false,"zero":false},"axis":{"zindex":1,"orient":"bottom","offset":-343,"values":[0,10,20,30],"format":"~f","title":"time (s)","labelPadding":19,"titlePadding":6}},
     "y":{"field":"v","type":"quantitative","scale":{"domain":[0,2],"range":[214,48.5],"nice":false,"zero":false},"axis":{"zindex":1,"orient":"left","offset":-100,"values":[0,1,2],"format":"~f","title":"Iₚ (A)","labelPadding":12.5,"titlePadding":15}}}},
   {"data":{"name":"info"},"transform":[{"filter":"datum.p=='A'"}],"mark":{"type":"text","align":"left","baseline":"alphabetic","dx":2,"dy":-6,"fontSize":22,"color":"#262626"},
    "encoding":{
     "x":{"datum":0,"type":"quantitative","scale":{"domain":[0,30],"range":[100,356],"nice":false,"zero":false},"axis":{"zindex":1,"orient":"top","offset":-48.5,"values":[0,10,20,30],"labels":false,"title":null}},
     "y":{"datum":2,"type":"quantitative","scale":{"domain":[0,2],"range":[214,48.5],"nice":false,"zero":false},"axis":{"zindex":1,"orient":"right","offset":-411,"values":[0,1,2],"labels":false,"title":null}},
     "text":{"field":"ipx"}}},
   {"data":{"name":"xt"},"transform":[{"filter":"datum.p=='A'"}],"mark":{"type":"line","color":"#111111","strokeWidth":2.4},
    "encoding":{
     "x":{"field":"t","type":"quantitative","scale":{"domain":[0,30],"range":[100,356],"nice":false,"zero":false},"axis":{"zindex":1,"orient":"bottom","offset":-79,"values":[0,10,20,30],"format":"~f","title":"time (s)","labelPadding":19,"titlePadding":6}},
     "y":{"field":"v","type":"quantitative","scale":{"domain":[0,4.17],"range":[478,312],"nice":false,"zero":false},"axis":{"zindex":1,"orient":"left","offset":-100,"values":[0,2,4],"format":"~f","title":"X(t) (T/A)","labelPadding":12.5,"titlePadding":9}}}},
   {"data":{"name":"info"},"transform":[{"filter":"datum.p=='A'"}],"mark":{"type":"text","align":"left","baseline":"alphabetic","dx":2,"dy":-6,"fontSize":22,"color":"#262626"},
    "encoding":{
     "x":{"datum":0,"type":"quantitative","scale":{"domain":[0,30],"range":[100,356],"nice":false,"zero":false},"axis":{"zindex":1,"orient":"top","offset":-312,"values":[0,10,20,30],"labels":false,"title":null}},
     "y":{"datum":4.17,"type":"quantitative","scale":{"domain":[0,4.17],"range":[478,312],"nice":false,"zero":false},"axis":{"zindex":1,"orient":"right","offset":-411,"values":[0,2,4],"labels":false,"title":null}},
     "text":{"field":"xx"}}},
   {"encoding":{
     "x":{"field":"x","type":"quantitative","scale":{"domain":[0,2],"range":[438,694],"nice":false,"zero":false},"axis":{"zindex":1,"orient":"bottom","offset":-61,"values":[0,0.5,1,1.5,2],"format":"~f","title":"X(t - τ) (T/A)","labelFontSize":19,"titleFontSize":20,"labelPadding":16,"titlePadding":6}},
     "y":{"field":"y","type":"quantitative","scale":{"domain":[0,2],"range":[496,42],"nice":false,"zero":false},"axis":{"zindex":1,"orient":"left","offset":-438,"values":[0,0.2,0.4,0.6,0.8,1,1.2,1.4,1.6,1.8,2],"format":"~f","title":"X(t) (T/A)","labelFontSize":19,"titleFontSize":20,"labelPadding":13.4,"titlePadding":1}}},
    "layer":[
     {"data":{"name":"sc"},"transform":[{"filter":"datum.p=='A'"}],"mark":{"type":"point","filled":false,"strokeWidth":2.6,"opacity":1},
      "encoding":{
       "color":{"field":"c","type":"nominal","scale":{"domain":["d","s","g"],"range":["#000000","#000000","#14ea14"]},"legend":{"orient":"none","legendX":446,"legendY":53,"title":null,"zindex":1,"labelExpr":"datum.label=='d'?'Disruptive centroid':datum.label=='s'?'Non-disr. centroid':datum.label=='r'?'Disr. state':'Non-disr. state'"}},
       "shape":{"field":"c","type":"nominal","scale":{"domain":["d","s","g"],"range":["M0,-1L0.7,0L0,1L-0.7,0Z","square","M-1,-1L1,1M1,-1L-1,1"]},"legend":{"orient":"none","legendX":446,"legendY":53,"title":null,"zindex":1,"labelExpr":"datum.label=='d'?'Disruptive centroid':datum.label=='s'?'Non-disr. centroid':datum.label=='r'?'Disr. state':'Non-disr. state'"}},
       "size":{"field":"c","type":"nominal","scale":{"domain":["d","s","g"],"range":[200,40,80]},"legend":{"orient":"none","legendX":446,"legendY":53,"title":null,"zindex":1,"labelExpr":"datum.label=='d'?'Disruptive centroid':datum.label=='s'?'Non-disr. centroid':datum.label=='r'?'Disr. state':'Non-disr. state'"}}}},
     {"data":{"name":"ln"},"transform":[{"filter":"datum.p=='A' && datum.k=='b'"}],"mark":{"type":"line","color":"#1428e6","strokeWidth":2.7,"strokeDash":[12,7]},"encoding":{}},
     {"data":{"name":"ln"},"transform":[{"filter":"datum.p=='A' && datum.k=='r'"}],"mark":{"type":"line","color":"#f01010","strokeWidth":2.5},"encoding":{}}
    ]},
   {"data":{"name":"info"},"transform":[{"filter":"datum.p=='A'"}],
    "layer":[
     {"mark":{"type":"text","fontWeight":"bold","fontSize":19,"baseline":"alphabetic","dy":-7,"color":"#000000"},"encoding":{"x":{"datum":1,"type":"quantitative","scale":{"domain":[0,2],"range":[438,694],"nice":false,"zero":false},"axis":null},"y":{"datum":2,"type":"quantitative","scale":{"domain":[0,2],"range":[496,42],"nice":false,"zero":false},"axis":null},"text":{"field":"shot"}}},
     {"mark":{"type":"text","align":"left","baseline":"alphabetic","dx":2,"dy":-6,"fontSize":22,"color":"#262626"},"encoding":{"x":{"datum":0,"type":"quantitative","scale":{"domain":[0,2],"range":[438,694],"nice":false,"zero":false},"axis":null},"y":{"datum":2,"type":"quantitative","scale":{"domain":[0,2],"range":[496,42],"nice":false,"zero":false},"axis":null},"text":{"field":"sx"}}},
     {"mark":{"type":"text","align":"right","baseline":"alphabetic","dy":54,"fontSize":22,"color":"#262626"},"encoding":{"x":{"datum":2,"type":"quantitative","scale":{"domain":[0,2],"range":[438,694],"nice":false,"zero":false},"axis":null},"y":{"datum":0,"type":"quantitative","scale":{"domain":[0,2],"range":[496,42],"nice":false,"zero":false},"axis":null},"text":{"field":"sx"}}}
    ]}
  ]
 },
 {
  "width":767,"height":557,
  "title":{"text":"Disruptive behaviours","anchor":"start","frame":"group","orient":"top","offset":-48,"dx":-4,"fontSize":75,"fontWeight":"normal","color":"#00349e","baseline":"alphabetic","zindex":1},
  "resolve":{"scale":{"x":"independent","y":"independent"},"axis":{"x":"independent","y":"independent"}},
  "layer":[
   {"data":{"values":[{}]},"mark":{"type":"rect","fill":"transparent","stroke":"#1e1e1e","strokeWidth":98},"encoding":{}},
   {"data":{"values":[{}]},"mark":{"type":"rect","fill":"transparent","stroke":"#b9e0e2","strokeWidth":94},"encoding":{}},
   {"data":{"values":[{}]},"mark":{"type":"rect","fill":"white","strokeWidth":0},"encoding":{}},
   {"data":{"name":"ip"},"transform":[{"filter":"datum.p=='B'"}],"mark":{"type":"line","color":"#111111","strokeWidth":2},
    "encoding":{
     "x":{"field":"t","type":"quantitative","scale":{"domain":[0,20],"range":[100,356],"nice":false,"zero":false},"axis":{"zindex":1,"orient":"bottom","offset":-343,"values":[0,10,20],"format":"~f","title":"time (s)","labelPadding":19,"titlePadding":6}},
     "y":{"field":"v","type":"quantitative","scale":{"domain":[0,2],"range":[214,48.5],"nice":false,"zero":false},"axis":{"zindex":1,"orient":"left","offset":-100,"values":[0,1,2],"format":"~f","title":"Iₚ (A)","labelPadding":12.5,"titlePadding":15}}}},
   {"data":{"name":"info"},"transform":[{"filter":"datum.p=='B'"}],"mark":{"type":"text","align":"left","baseline":"alphabetic","dx":2,"dy":-6,"fontSize":22,"color":"#262626"},
    "encoding":{
     "x":{"datum":0,"type":"quantitative","scale":{"domain":[0,20],"range":[100,356],"nice":false,"zero":false},"axis":{"zindex":1,"orient":"top","offset":-48.5,"values":[0,10,20],"labels":false,"title":null}},
     "y":{"datum":2,"type":"quantitative","scale":{"domain":[0,2],"range":[214,48.5],"nice":false,"zero":false},"axis":{"zindex":1,"orient":"right","offset":-411,"values":[0,1,2],"labels":false,"title":null}},
     "text":{"field":"ipx"}}},
   {"data":{"name":"xt"},"transform":[{"filter":"datum.p=='B'"}],"mark":{"type":"line","color":"#111111","strokeWidth":2.2},
    "encoding":{
     "x":{"field":"t","type":"quantitative","scale":{"domain":[0,20],"range":[100,356],"nice":false,"zero":false},"axis":{"zindex":1,"orient":"bottom","offset":-79,"values":[0,10,20],"format":"~f","title":"time (s)","labelPadding":19,"titlePadding":6}},
     "y":{"field":"v","type":"quantitative","scale":{"domain":[0,2],"range":[478,312],"nice":false,"zero":false},"axis":{"zindex":1,"orient":"left","offset":-100,"values":[0,1,2],"format":"~f","title":"X(t) (T/A)","labelPadding":12.5,"titlePadding":9}}}},
   {"data":{"name":"info"},"transform":[{"filter":"datum.p=='B'"}],"mark":{"type":"text","align":"left","baseline":"alphabetic","dx":2,"dy":-6,"fontSize":22,"color":"#262626"},
    "encoding":{
     "x":{"datum":0,"type":"quantitative","scale":{"domain":[0,20],"range":[100,356],"nice":false,"zero":false},"axis":{"zindex":1,"orient":"top","offset":-312,"values":[0,10,20],"labels":false,"title":null}},
     "y":{"datum":2,"type":"quantitative","scale":{"domain":[0,2],"range":[478,312],"nice":false,"zero":false},"axis":{"zindex":1,"orient":"right","offset":-411,"values":[0,1,2],"labels":false,"title":null}},
     "text":{"field":"xx"}}},
   {"encoding":{
     "x":{"field":"x","type":"quantitative","scale":{"domain":[0,2],"range":[438,694],"nice":false,"zero":false},"axis":{"zindex":1,"orient":"bottom","offset":-61,"values":[0,0.5,1,1.5,2],"format":"~f","title":"X(t - τ) (T/A)","labelFontSize":19,"titleFontSize":20,"labelPadding":16,"titlePadding":6}},
     "y":{"field":"y","type":"quantitative","scale":{"domain":[0,2],"range":[496,42],"nice":false,"zero":false},"axis":{"zindex":1,"orient":"left","offset":-438,"values":[0,0.2,0.4,0.6,0.8,1,1.2,1.4,1.6,1.8,2],"format":"~f","title":"X(t) (T/A)","labelFontSize":19,"titleFontSize":20,"labelPadding":13.4,"titlePadding":1}}},
    "layer":[
     {"data":{"name":"sc"},"transform":[{"filter":"datum.p=='B'"}],"mark":{"type":"point","filled":false,"strokeWidth":2.6,"opacity":1},
      "encoding":{
       "color":{"field":"c","type":"nominal","scale":{"domain":["d","s","r","g"],"range":["#000000","#000000","#ff1a1a","#14ea14"]},"legend":{"orient":"none","legendX":441,"legendY":62,"title":null,"zindex":1,"labelExpr":"datum.label=='d'?'Disruptive centroid':datum.label=='s'?'Non-disr. centroid':datum.label=='r'?'Disr. state':'Non-disr. state'"}},
       "shape":{"field":"c","type":"nominal","scale":{"domain":["d","s","r","g"],"range":["M0,-1L0.7,0L0,1L-0.7,0Z","square","circle","M-1,-1L1,1M1,-1L-1,1"]},"legend":{"orient":"none","legendX":441,"legendY":62,"title":null,"zindex":1,"labelExpr":"datum.label=='d'?'Disruptive centroid':datum.label=='s'?'Non-disr. centroid':datum.label=='r'?'Disr. state':'Non-disr. state'"}},
       "size":{"field":"c","type":"nominal","scale":{"domain":["d","s","r","g"],"range":[200,40,130,80]},"legend":{"orient":"none","legendX":441,"legendY":62,"title":null,"zindex":1,"labelExpr":"datum.label=='d'?'Disruptive centroid':datum.label=='s'?'Non-disr. centroid':datum.label=='r'?'Disr. state':'Non-disr. state'"}}}},
     {"data":{"name":"ln"},"transform":[{"filter":"datum.p=='B' && datum.k=='b'"}],"mark":{"type":"line","color":"#1428e6","strokeWidth":2.7,"strokeDash":[12,7]},"encoding":{}},
     {"data":{"name":"ln"},"transform":[{"filter":"datum.p=='B' && datum.k=='r'"}],"mark":{"type":"line","color":"#f01010","strokeWidth":2.5},"encoding":{}}
    ]},
   {"data":{"name":"info"},"transform":[{"filter":"datum.p=='B'"}],
    "layer":[
     {"mark":{"type":"text","fontWeight":"bold","fontSize":19,"baseline":"alphabetic","dy":-7,"color":"#000000"},"encoding":{"x":{"datum":1,"type":"quantitative","scale":{"domain":[0,2],"range":[438,694],"nice":false,"zero":false},"axis":null},"y":{"datum":2,"type":"quantitative","scale":{"domain":[0,2],"range":[496,42],"nice":false,"zero":false},"axis":null},"text":{"field":"shot"}}},
     {"mark":{"type":"text","align":"left","baseline":"alphabetic","dx":2,"dy":-6,"fontSize":22,"color":"#262626"},"encoding":{"x":{"datum":0,"type":"quantitative","scale":{"domain":[0,2],"range":[438,694],"nice":false,"zero":false},"axis":null},"y":{"datum":2,"type":"quantitative","scale":{"domain":[0,2],"range":[496,42],"nice":false,"zero":false},"axis":null},"text":{"field":"sx"}}},
     {"mark":{"type":"text","align":"right","baseline":"alphabetic","dy":54,"fontSize":22,"color":"#262626"},"encoding":{"x":{"datum":2,"type":"quantitative","scale":{"domain":[0,2],"range":[438,694],"nice":false,"zero":false},"axis":null},"y":{"datum":0,"type":"quantitative","scale":{"domain":[0,2],"range":[496,42],"nice":false,"zero":false},"axis":null},"text":{"field":"sx"}}}
    ]}
  ]
 },
 {
  "width":767,"height":557,
  "resolve":{"scale":{"x":"independent","y":"independent"},"axis":{"x":"independent","y":"independent"}},
  "layer":[
   {"data":{"values":[{}]},"mark":{"type":"rect","fill":"transparent","stroke":"#1e1e1e","strokeWidth":98},"encoding":{}},
   {"data":{"values":[{}]},"mark":{"type":"rect","fill":"transparent","stroke":"#b9e0e2","strokeWidth":94},"encoding":{}},
   {"data":{"values":[{}]},"mark":{"type":"rect","fill":"white","strokeWidth":0},"encoding":{}},
   {"data":{"name":"ip"},"transform":[{"filter":"datum.p=='C'"}],"mark":{"type":"line","color":"#111111","strokeWidth":2},
    "encoding":{
     "x":{"field":"t","type":"quantitative","scale":{"domain":[0,20],"range":[100,356],"nice":false,"zero":false},"axis":{"zindex":1,"orient":"bottom","offset":-343,"values":[0,10,20],"format":"~f","title":"time (s)","labelPadding":19,"titlePadding":6}},
     "y":{"field":"v","type":"quantitative","scale":{"domain":[0,3.14],"range":[214,48.5],"nice":false,"zero":false},"axis":{"zindex":1,"orient":"left","offset":-100,"values":[0,1,2,3],"format":"~f","title":"Iₚ (A)","labelPadding":12.5,"titlePadding":15}}}},
   {"data":{"name":"info"},"transform":[{"filter":"datum.p=='C'"}],"mark":{"type":"text","align":"left","baseline":"alphabetic","dx":2,"dy":-6,"fontSize":22,"color":"#262626"},
    "encoding":{
     "x":{"datum":0,"type":"quantitative","scale":{"domain":[0,20],"range":[100,356],"nice":false,"zero":false},"axis":{"zindex":1,"orient":"top","offset":-48.5,"values":[0,10,20],"labels":false,"title":null}},
     "y":{"datum":3.14,"type":"quantitative","scale":{"domain":[0,3.14],"range":[214,48.5],"nice":false,"zero":false},"axis":{"zindex":1,"orient":"right","offset":-411,"values":[0,1,2,3],"labels":false,"title":null}},
     "text":{"field":"ipx"}}},
   {"data":{"name":"xt"},"transform":[{"filter":"datum.p=='C'"}],"mark":{"type":"line","color":"#111111","strokeWidth":2.3},
    "encoding":{
     "x":{"field":"t","type":"quantitative","scale":{"domain":[0,20],"range":[100,356],"nice":false,"zero":false},"axis":{"zindex":1,"orient":"bottom","offset":-79,"values":[0,10,20],"format":"~f","title":"time (s)","labelPadding":19,"titlePadding":6}},
     "y":{"field":"v","type":"quantitative","scale":{"domain":[0,6.68],"range":[478,312],"nice":false,"zero":false},"axis":{"zindex":1,"orient":"left","offset":-100,"values":[0,2,4,6],"format":"~f","title":"X(t) (T/A)","labelPadding":12.5,"titlePadding":9}}}},
   {"data":{"name":"info"},"transform":[{"filter":"datum.p=='C'"}],"mark":{"type":"text","align":"left","baseline":"alphabetic","dx":2,"dy":-6,"fontSize":22,"color":"#262626"},
    "encoding":{
     "x":{"datum":0,"type":"quantitative","scale":{"domain":[0,20],"range":[100,356],"nice":false,"zero":false},"axis":{"zindex":1,"orient":"top","offset":-312,"values":[0,10,20],"labels":false,"title":null}},
     "y":{"datum":6.68,"type":"quantitative","scale":{"domain":[0,6.68],"range":[478,312],"nice":false,"zero":false},"axis":{"zindex":1,"orient":"right","offset":-411,"values":[0,2,4,6],"labels":false,"title":null}},
     "text":{"field":"xx"}}},
   {"encoding":{
     "x":{"field":"x","type":"quantitative","scale":{"domain":[0,2],"range":[438,694],"nice":false,"zero":false},"axis":{"zindex":1,"orient":"bottom","offset":-61,"values":[0,0.5,1,1.5,2],"format":"~f","title":"X(t - τ) (T/A)","labelFontSize":19,"titleFontSize":20,"labelPadding":16,"titlePadding":6}},
     "y":{"field":"y","type":"quantitative","scale":{"domain":[0,2],"range":[496,42],"nice":false,"zero":false},"axis":{"zindex":1,"orient":"left","offset":-438,"values":[0,0.2,0.4,0.6,0.8,1,1.2,1.4,1.6,1.8,2],"format":"~f","title":"X(t) (T/A)","labelFontSize":19,"titleFontSize":20,"labelPadding":13.4,"titlePadding":1}}},
    "layer":[
     {"data":{"name":"sc"},"transform":[{"filter":"datum.p=='C'"}],"mark":{"type":"point","filled":false,"strokeWidth":2.6,"opacity":1},
      "encoding":{
       "color":{"field":"c","type":"nominal","scale":{"domain":["d","s","r","g"],"range":["#000000","#000000","#ff1a1a","#14ea14"]},"legend":{"orient":"none","legendX":447,"legendY":54,"title":null,"zindex":1,"labelExpr":"datum.label=='d'?'Disruptive centroid':datum.label=='s'?'Non-disr. centroid':datum.label=='r'?'Disr. state':'Non-disr. state'"}},
       "shape":{"field":"c","type":"nominal","scale":{"domain":["d","s","r","g"],"range":["M0,-1L0.7,0L0,1L-0.7,0Z","square","circle","M-1,-1L1,1M1,-1L-1,1"]},"legend":{"orient":"none","legendX":447,"legendY":54,"title":null,"zindex":1,"labelExpr":"datum.label=='d'?'Disruptive centroid':datum.label=='s'?'Non-disr. centroid':datum.label=='r'?'Disr. state':'Non-disr. state'"}},
       "size":{"field":"c","type":"nominal","scale":{"domain":["d","s","r","g"],"range":[200,40,130,80]},"legend":{"orient":"none","legendX":447,"legendY":54,"title":null,"zindex":1,"labelExpr":"datum.label=='d'?'Disruptive centroid':datum.label=='s'?'Non-disr. centroid':datum.label=='r'?'Disr. state':'Non-disr. state'"}}}},
     {"data":{"name":"ln"},"transform":[{"filter":"datum.p=='C' && datum.k=='b'"}],"mark":{"type":"line","color":"#1428e6","strokeWidth":2.7,"strokeDash":[12,7]},"encoding":{}},
     {"data":{"name":"ln"},"transform":[{"filter":"datum.p=='C' && datum.k=='r'"}],"mark":{"type":"line","color":"#f01010","strokeWidth":2.5},"encoding":{}}
    ]},
   {"data":{"name":"info"},"transform":[{"filter":"datum.p=='C'"}],
    "layer":[
     {"mark":{"type":"text","fontWeight":"bold","fontSize":19,"baseline":"alphabetic","dy":-7,"color":"#000000"},"encoding":{"x":{"datum":1,"type":"quantitative","scale":{"domain":[0,2],"range":[438,694],"nice":false,"zero":false},"axis":null},"y":{"datum":2,"type":"quantitative","scale":{"domain":[0,2],"range":[496,42],"nice":false,"zero":false},"axis":null},"text":{"field":"shot"}}},
     {"mark":{"type":"text","align":"left","baseline":"alphabetic","dx":2,"dy":-6,"fontSize":22,"color":"#262626"},"encoding":{"x":{"datum":0,"type":"quantitative","scale":{"domain":[0,2],"range":[438,694],"nice":false,"zero":false},"axis":null},"y":{"datum":2,"type":"quantitative","scale":{"domain":[0,2],"range":[496,42],"nice":false,"zero":false},"axis":null},"text":{"field":"sx"}}},
     {"mark":{"type":"text","align":"right","baseline":"alphabetic","dy":54,"fontSize":22,"color":"#262626"},"encoding":{"x":{"datum":2,"type":"quantitative","scale":{"domain":[0,2],"range":[438,694],"nice":false,"zero":false},"axis":null},"y":{"datum":0,"type":"quantitative","scale":{"domain":[0,2],"range":[496,42],"nice":false,"zero":false},"axis":null},"text":{"field":"sx"}}}
    ]}
  ]
 },
 {
  "width":767,"height":557,
  "resolve":{"scale":{"x":"independent","y":"independent"},"axis":{"x":"independent","y":"independent"}},
  "layer":[
   {"data":{"values":[{}]},"mark":{"type":"rect","fill":"transparent","stroke":"#1e1e1e","strokeWidth":98},"encoding":{}},
   {"data":{"values":[{}]},"mark":{"type":"rect","fill":"transparent","stroke":"#b9e0e2","strokeWidth":94},"encoding":{}},
   {"data":{"values":[{}]},"mark":{"type":"rect","fill":"white","strokeWidth":0},"encoding":{}},
   {"data":{"name":"ip"},"transform":[{"filter":"datum.p=='D'"}],"mark":{"type":"line","color":"#111111","strokeWidth":2},
    "encoding":{
     "x":{"field":"t","type":"quantitative","scale":{"domain":[0,10],"range":[100,356],"nice":false,"zero":false},"axis":{"zindex":1,"orient":"bottom","offset":-343,"values":[0,5,10],"format":"~f","title":"time (s)","labelPadding":19,"titlePadding":6}},
     "y":{"field":"v","type":"quantitative","scale":{"domain":[0,2],"range":[214,48.5],"nice":false,"zero":false},"axis":{"zindex":1,"orient":"left","offset":-100,"values":[0,1,2],"format":"~f","title":"Iₚ (A)","labelPadding":12.5,"titlePadding":15}}}},
   {"data":{"name":"info"},"transform":[{"filter":"datum.p=='D'"}],"mark":{"type":"text","align":"left","baseline":"alphabetic","dx":2,"dy":-6,"fontSize":22,"color":"#262626"},
    "encoding":{
     "x":{"datum":0,"type":"quantitative","scale":{"domain":[0,10],"range":[100,356],"nice":false,"zero":false},"axis":{"zindex":1,"orient":"top","offset":-48.5,"values":[0,5,10],"labels":false,"title":null}},
     "y":{"datum":2,"type":"quantitative","scale":{"domain":[0,2],"range":[214,48.5],"nice":false,"zero":false},"axis":{"zindex":1,"orient":"right","offset":-411,"values":[0,1,2],"labels":false,"title":null}},
     "text":{"field":"ipx"}}},
   {"data":{"name":"xt"},"transform":[{"filter":"datum.p=='D'"}],"mark":{"type":"line","color":"#111111","strokeWidth":2.2},
    "encoding":{
     "x":{"field":"t","type":"quantitative","scale":{"domain":[0,10],"range":[100,356],"nice":false,"zero":false},"axis":{"zindex":1,"orient":"bottom","offset":-79,"values":[0,5,10],"format":"~f","title":"time (s)","labelPadding":19,"titlePadding":6}},
     "y":{"field":"v","type":"quantitative","scale":{"domain":[0,1.2],"range":[478,312],"nice":false,"zero":false},"axis":{"zindex":1,"orient":"left","offset":-100,"values":[0,0.5,1],"format":"~f","title":"ML/Iₚ (T/A)","labelPadding":12.5,"titlePadding":9}}}},
   {"data":{"name":"info"},"transform":[{"filter":"datum.p=='D'"}],"mark":{"type":"text","align":"left","baseline":"alphabetic","dx":2,"dy":-6,"fontSize":22,"color":"#262626"},
    "encoding":{
     "x":{"datum":0,"type":"quantitative","scale":{"domain":[0,10],"range":[100,356],"nice":false,"zero":false},"axis":{"zindex":1,"orient":"top","offset":-312,"values":[0,5,10],"labels":false,"title":null}},
     "y":{"datum":1.2,"type":"quantitative","scale":{"domain":[0,1.2],"range":[478,312],"nice":false,"zero":false},"axis":{"zindex":1,"orient":"right","offset":-411,"values":[0,0.5,1],"labels":false,"title":null}},
     "text":{"field":"xx"}}},
   {"encoding":{
     "x":{"field":"x","type":"quantitative","scale":{"domain":[0,2],"range":[438,694],"nice":false,"zero":false},"axis":{"zindex":1,"orient":"bottom","offset":-61,"values":[0,0.5,1,1.5,2],"format":"~f","title":"X(t - τ) (T/A)","labelFontSize":19,"titleFontSize":20,"labelPadding":16,"titlePadding":6}},
     "y":{"field":"y","type":"quantitative","scale":{"domain":[0,2],"range":[496,42],"nice":false,"zero":false},"axis":{"zindex":1,"orient":"left","offset":-438,"values":[0,0.2,0.4,0.6,0.8,1,1.2,1.4,1.6,1.8,2],"format":"~f","title":"X(t) (T/A)","labelFontSize":19,"titleFontSize":20,"labelPadding":13.4,"titlePadding":1}}},
    "layer":[
     {"data":{"name":"sc"},"transform":[{"filter":"datum.p=='D'"}],"mark":{"type":"point","filled":false,"strokeWidth":2.6,"opacity":1},
      "encoding":{
       "color":{"field":"c","type":"nominal","scale":{"domain":["d","s","r","g"],"range":["#000000","#000000","#ff1a1a","#14ea14"]},"legend":{"orient":"none","legendX":448,"legendY":52,"title":null,"zindex":1,"labelExpr":"datum.label=='d'?'Disruptive centroid':datum.label=='s'?'Non-disr. centroid':datum.label=='r'?'Disr. state':'Non-disr. state'"}},
       "shape":{"field":"c","type":"nominal","scale":{"domain":["d","s","r","g"],"range":["M0,-1L0.7,0L0,1L-0.7,0Z","square","circle","M-1,-1L1,1M1,-1L-1,1"]},"legend":{"orient":"none","legendX":448,"legendY":52,"title":null,"zindex":1,"labelExpr":"datum.label=='d'?'Disruptive centroid':datum.label=='s'?'Non-disr. centroid':datum.label=='r'?'Disr. state':'Non-disr. state'"}},
       "size":{"field":"c","type":"nominal","scale":{"domain":["d","s","r","g"],"range":[200,40,130,80]},"legend":{"orient":"none","legendX":448,"legendY":52,"title":null,"zindex":1,"labelExpr":"datum.label=='d'?'Disruptive centroid':datum.label=='s'?'Non-disr. centroid':datum.label=='r'?'Disr. state':'Non-disr. state'"}}}},
     {"data":{"name":"ln"},"transform":[{"filter":"datum.p=='D' && datum.k=='b'"}],"mark":{"type":"line","color":"#1428e6","strokeWidth":2.7,"strokeDash":[12,7]},"encoding":{}},
     {"data":{"name":"ln"},"transform":[{"filter":"datum.p=='D' && datum.k=='r'"}],"mark":{"type":"line","color":"#f01010","strokeWidth":2.5},"encoding":{}}
    ]},
   {"data":{"name":"info"},"transform":[{"filter":"datum.p=='D'"}],
    "layer":[
     {"mark":{"type":"text","fontWeight":"bold","fontSize":19,"baseline":"alphabetic","dy":-7,"color":"#000000"},"encoding":{"x":{"datum":1,"type":"quantitative","scale":{"domain":[0,2],"range":[438,694],"nice":false,"zero":false},"axis":null},"y":{"datum":2,"type":"quantitative","scale":{"domain":[0,2],"range":[496,42],"nice":false,"zero":false},"axis":null},"text":{"field":"shot"}}},
     {"mark":{"type":"text","align":"left","baseline":"alphabetic","dx":2,"dy":-6,"fontSize":22,"color":"#262626"},"encoding":{"x":{"datum":0,"type":"quantitative","scale":{"domain":[0,2],"range":[438,694],"nice":false,"zero":false},"axis":null},"y":{"datum":2,"type":"quantitative","scale":{"domain":[0,2],"range":[496,42],"nice":false,"zero":false},"axis":null},"text":{"field":"sx"}}},
     {"mark":{"type":"text","align":"right","baseline":"alphabetic","dy":54,"fontSize":22,"color":"#262626"},"encoding":{"x":{"datum":2,"type":"quantitative","scale":{"domain":[0,2],"range":[438,694],"nice":false,"zero":false},"axis":null},"y":{"datum":0,"type":"quantitative","scale":{"domain":[0,2],"range":[496,42],"nice":false,"zero":false},"axis":null},"text":{"field":"sx"}}}
    ]}
  ]
 }
]
}
